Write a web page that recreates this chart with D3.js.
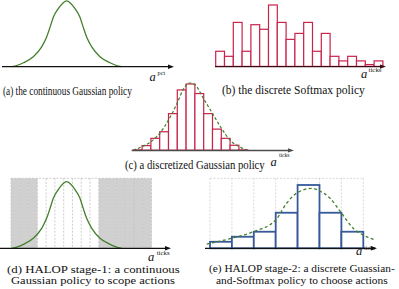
<!DOCTYPE html>
<html>
<head>
<meta charset="utf-8">
<script src="https://cdn.jsdelivr.net/npm/d3@7"></script>
<style>
  body { margin: 0; background: #fff; }
  svg { display: block; }
  text { font-family: "Liberation Serif", "DejaVu Serif", serif; fill: #111; }
</style>
</head>
<body>
<div id="chart"></div>
<script>
////////////////////////////////////////////////////////////////////////
// Data

// (a)/(d) continuous Gaussian policy: [a^pct in 0..1, density relative to peak]
const pctCurve = [
  [0.057, 0], [0.09, 0.022], [0.125, 0.06], [0.183, 0.15], [0.232, 0.30],
  [0.261, 0.45], [0.281, 0.60], [0.300, 0.75], [0.329, 0.88], [0.378, 1.0],
  [0.427, 0.88], [0.456, 0.75], [0.475, 0.60], [0.495, 0.45], [0.525, 0.30],
  [0.573, 0.15], [0.632, 0.06], [0.666, 0.022], [0.700, 0]
];

// (b) discrete softmax policy, probability (%) per tick
const softmaxProbs = [3.3, 2.2, 9.6, 3.3, 9.1, 8.1, 13.4, 9.6, 5.9, 7.2,
                      9.6, 3.3, 7.2, 2.2, 1.2, 2.2, 1.2, 0.4, 1.2];

// (c) discretized Gaussian, probability per tick
const discGaussProbs = [0.001, 0.014, 0.036, 0.056, 0.111, 0.183, 0.201,
                        0.172, 0.111, 0.064, 0.036, 0.015, 0.001];
// (c) underlying Gaussian: [tick, density]
const discGaussCurve = [
  [0, 0], [1.02, 0.011], [2.01, 0.026], [3.03, 0.052], [4.01, 0.092],
  [4.99, 0.143], [5.67, 0.184], [6.36, 0.204], [7.0, 0.199], [7.95, 0.158],
  [8.97, 0.113], [10.0, 0.067], [10.98, 0.031], [12.0, 0.011], [12.88, 0.001]
];

// (d) stage-1 tick columns, the scoped (kept) ones are [scopeStart, scopeEnd)
const stage1Ticks = 16;
const scopeStart = 3;
const scopeEnd = 10;

// (e) stage-2 discrete policy over the scoped ticks
const stage2Probs = [0.035, 0.062, 0.089, 0.191, 0.340, 0.191, 0.089];
const stage2Curve = [
  [-0.15, 0.023], [0.99, 0.054], [1.98, 0.089], [3.0, 0.152], [3.5, 0.242],
  [3.99, 0.299], [4.65, 0.322], [4.99, 0.309], [5.48, 0.269], [6.01, 0.188],
  [6.54, 0.107], [7.0, 0.071], [7.53, 0.045]
];

const captions = [
  "(a) the continuous Gaussian policy",
  "(b) the discrete Softmax policy",
  "(c) a discretized Gaussian policy",
  "(d) HALOP stage-1: a continuous",
  "Gaussian policy to scope actions",
  "(e) HALOP stage-2: a discrete Guassian-",
  "and-Softmax policy to choose actions"
];

////////////////////////////////////////////////////////////////////////
// Drawing

const green = "#437f2b";
const crimson = "#c8234b";
const blue = "#36599a";

const svg = d3.select("#chart")
  .append("svg")
  .attr("width", 399)
  .attr("height", 289);

// horizontal axis with a filled arrow head
function arrowAxis(x0, x1, y, color, width) {
  svg.append("line")
    .attr("x1", x0).attr("x2", x1 - 4)
    .attr("y1", y).attr("y2", y)
    .attr("stroke", color)
    .attr("stroke-width", width);
  svg.append("path")
    .attr("d", `M${x1},${y} L${x1 - 6},${y - 2.2} L${x1 - 6},${y + 2.2} Z`)
    .attr("fill", color);
}

// italic "a" with a small superscript
function aLabel(x, y, sup, supX, supY, supW) {
  svg.append("text")
    .attr("x", x).attr("y", y)
    .style("font-style", "italic")
    .style("font-size", "12.5px")
    .text("a");
  svg.append("text")
    .attr("x", supX).attr("y", supY)
    .style("font-size", "5.5px")
    .attr("textLength", supW)
    .attr("lengthAdjust", "spacingAndGlyphs")
    .text(sup);
}

// captions are squeezed/stretched horizontally like in the figure
function caption(i, x, y, w, fs) {
  let t = svg.append("text")
    .style("font-size", fs + "px")
    .text(captions[i]);
  let natural = t.node().getComputedTextLength();
  t.attr("transform", `translate(${x},${y}) scale(${w / natural},1)`);
}

function bars(data, xs, ys, color, width) {
  svg.append("g")
    .selectAll("rect")
    .data(data)
    .enter()
    .append("rect")
    .attr("x", (d, i) => xs(i))
    .attr("y", d => ys(d))
    .attr("width", xs(1) - xs(0))
    .attr("height", d => ys(0) - ys(d))
    .attr("fill", "#fff")
    .attr("stroke", color)
    .attr("stroke-width", width);
}

// tick grid: dashed column borders plus a dashed top edge
function tickGrid(xs, n, yTop, yBottom, color) {
  svg.append("g")
    .selectAll("line")
    .data(d3.range(n + 1))
    .enter()
    .append("line")
    .attr("x1", d => xs(d)).attr("x2", d => xs(d))
    .attr("y1", yTop).attr("y2", yBottom)
    .attr("stroke", color)
    .attr("stroke-width", 0.8)
    .attr("stroke-dasharray", "2,1.5");
  svg.append("line")
    .attr("x1", xs(0)).attr("x2", xs(n))
    .attr("y1", yTop).attr("y2", yTop)
    .attr("stroke", color)
    .attr("stroke-width", 0.8)
    .attr("stroke-dasharray", "2,1.5");
}

// ---- (a) continuous Gaussian policy
let xA = d3.scaleLinear().domain([0, 1]).range([2, 173]);
let yA = d3.scaleLinear().domain([0, 1]).range([66.7, 0.8]);
let lineA = d3.line().x(d => xA(d[0])).y(d => yA(d[1])).curve(d3.curveMonotoneX);

svg.append("path")
  .datum(pctCurve)
  .attr("d", lineA)
  .attr("fill", "none")
  .attr("stroke", green)
  .attr("stroke-width", 1.3);
arrowAxis(2, 174, 66.7, "#111", 1.3);
aLabel(149.5, 81, "pct", 157.5, 75, 7.7);
caption(0, 3, 94.5, 129, 12.5);

// ---- (b) discrete softmax policy
let xB = d3.scaleLinear().domain([0, softmaxProbs.length]).range([215.7, 382.9]);
let yB = d3.scaleLinear().domain([0, d3.max(softmaxProbs)]).range([66.4, 5]);
bars(softmaxProbs, xB, yB, crimson, 1.2);
arrowAxis(215, 386, 66.6, "#3a0b16", 1.3);
aLabel(361, 78, "ticks", 368.5, 71.7, 13);
caption(1, 222, 94, 143, 12.5);

// ---- (c) discretized Gaussian policy
let xC = d3.scaleLinear().domain([0, discGaussProbs.length]).range([133.3, 247.7]);
let yC = d3.scaleLinear().domain([0, d3.max(discGaussProbs)]).range([150.2, 84]);
bars(discGaussProbs, xC, yC, crimson, 1.2);
let lineC = d3.line().x(d => xC(d[0])).y(d => yC(d[1])).curve(d3.curveMonotoneX);
svg.append("path")
  .datum(discGaussCurve)
  .attr("d", lineC)
  .attr("fill", "none")
  .attr("stroke", green)
  .attr("stroke-width", 1.2)
  .attr("stroke-dasharray", "3,2");
arrowAxis(131.7, 294, 150.4, "#4d4d4d", 1.5);
aLabel(270.5, 166, "ticks", 279, 157, 10.5);
caption(2, 125, 168.5, 140, 12.5);

// ---- (d) HALOP stage-1
let colD = d3.scaleLinear().domain([0, stage1Ticks]).range([11, 151.5]);
let yD = d3.scaleLinear().domain([0, 1]).range([248.3, 181.7]);
svg.append("g")
  .selectAll("rect")
  .data(d3.range(stage1Ticks).filter(i => i < scopeStart || i >= scopeEnd))
  .enter()
  .append("rect")
  .attr("x", d => colD(d))
  .attr("y", 178.3)
  .attr("width", colD(1) - colD(0))
  .attr("height", 248.3 - 178.3)
  .attr("fill", "#d0d0d0");
tickGrid(colD, stage1Ticks, 178.3, 248.3, "#c2c2c2");
let lineD = d3.line().x(d => xA(d[0])).y(d => yD(d[1])).curve(d3.curveMonotoneX);
svg.append("path")
  .datum(pctCurve)
  .attr("d", lineD)
  .attr("fill", "none")
  .attr("stroke", green)
  .attr("stroke-width", 1.3);
arrowAxis(0, 171, 248.3, "#111", 1.3);
aLabel(148, 261, "ticks", 156.7, 254.5, 13);
caption(3, 7, 272.6, 173, 10);
caption(4, 11, 283.9, 164, 10);

// ---- (e) HALOP stage-2
let xE = d3.scaleLinear().domain([0, stage2Probs.length]).range([210, 363.3]);
let yE = d3.scaleLinear().domain([0, 0.376]).range([248.3, 178.3]);
tickGrid(xE, stage2Probs.length, 178.3, 248.3, "#cfcfcf");
bars(stage2Probs, xE, yE, blue, 1.8);
let lineE = d3.line().x(d => xE(d[0])).y(d => yE(d[1])).curve(d3.curveMonotoneX);
svg.append("path")
  .datum(stage2Curve)
  .attr("d", lineE)
  .attr("fill", "none")
  .attr("stroke", green)
  .attr("stroke-width", 1.3)
  .attr("stroke-dasharray", "3,2.5");
arrowAxis(205, 377, 248.3, "#111", 1.3);
aLabel(356, 255, "ticks", 364, 249.5, 11);
caption(5, 209, 272.4, 186, 10);
caption(6, 216, 283.7, 172, 10);
</script>
</body>
</html>
